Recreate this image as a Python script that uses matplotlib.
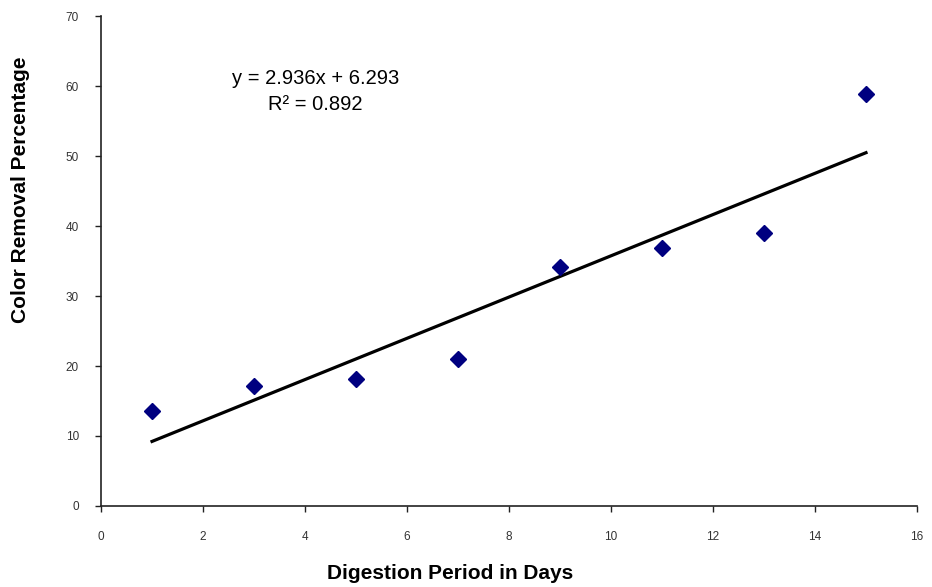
import numpy as np
import matplotlib.pyplot as plt

plt.rcParams['font.family'] = ['Liberation Sans', 'DejaVu Sans']

days = [1, 3, 5, 7, 9, 11, 13, 15]
removal = [13.6, 17.2, 18.2, 21.0, 34.1, 36.8, 39.0, 58.9]
eq_text = 'y = 2.936x + 6.293\nR² = 0.892'

fig = plt.figure(figsize=(9.32, 5.87), dpi=100)
ax = fig.add_axes([0.1084, 0.138, 0.8755, 0.8347])

slope, intercept = np.polyfit(days, removal, 1)
xf = np.array([days[0], days[-1]])
ax.plot(xf, slope * xf + intercept, color='black', linewidth=2.3)
ax.plot(days, removal, linestyle='none', marker='D', markersize=8,
        color='#000080', markeredgecolor='#000080')

ax.set_xlim(0, 16)
ax.set_ylim(0, 70)
ax.set_xticks(range(0, 17, 2))
ax.set_yticks(range(0, 71, 10))
for s in ['top', 'right']:
    ax.spines[s].set_visible(False)
for s in ['left', 'bottom']:
    ax.spines[s].set_linewidth(1.2)
    ax.spines[s].set_color('#222222')
ax.tick_params(direction='out', length=4, width=1, colors='#222222',
               labelsize=8.5, labelcolor='#333333')
ax.tick_params(axis='x', pad=14)
ax.tick_params(axis='y', pad=12)

ax.text(4.2, 59.2, eq_text, ha='center', va='center', fontsize=14.5,
        linespacing=1.45)

ax.set_xlabel('Digestion Period in Days', fontsize=15, fontweight='bold',
              va='center')
ax.xaxis.set_label_coords(0.428, -0.137)
ax.set_ylabel('Color Removal Percentage', fontsize=15, fontweight='bold',
              va='center')
ax.yaxis.set_label_coords(-0.099, 0.645)

fig.savefig('out.png', dpi=100)
